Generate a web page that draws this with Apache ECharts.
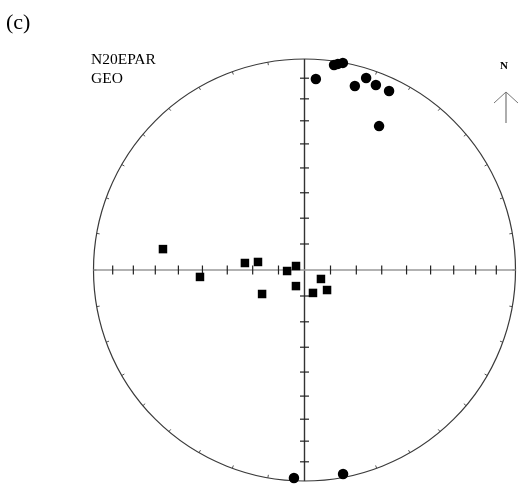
<!DOCTYPE html>
<html>
<head>
<meta charset="utf-8">
<script src="https://cdn.jsdelivr.net/npm/echarts@6/dist/echarts.min.js"></script>
<style>
  html, body { margin: 0; padding: 0; background: #fff; }
  #chart { width: 523px; height: 489px; }
</style>
</head>
<body>
<div id="chart"></div>
<script>
// Site mean directions (declination, inclination in degrees), geographic coordinates
const circleDec = [3.4, 8.2, 9.2, 10.5, 15.3, 17.8, 21.1, 25.3, 27.4, 182.9, 169.3];
const circleInc = [10.2, 2.1, 1.2, 0.2, 10.5, 5.0, 6.7, 6.9, 24.2, 1.5, 1.8];
const squareDec = [278.4, 266.2, 276.7, 279.8, 240.5, 266.7, 295.2, 208.0, 159.7, 118.6, 131.6];
const squareInc = [32.7, 48.9, 66.8, 71.8, 71.2, 83.3, 86.4, 83.0, 80.6, 82.8, 78.4];

// Inclination graduations along the N-S and E-W axes
const incTicks = [10, 20, 30, 40, 50, 60, 70, 80];
const axisDirs = [0, 90, 180, 270];

const siteLabel = 'N20EPAR';
const frameLabel = 'GEO';
const panelLabel = '(c)';

// Lambert equal-area (Schmidt) radius, 0 at the centre, 1 at the primitive
function eqArea(inc) {
  const a = (90 - Math.abs(inc)) / 2 * Math.PI / 180;
  return Math.SQRT2 * Math.sin(a);
}

function toPolar(decs, incs) {
  return decs.map((d, i) => [eqArea(incs[i]), d]);
}

const tickData = [];
axisDirs.forEach(dir => incTicks.forEach(inc => tickData.push([eqArea(inc), dir])));

const chart = echarts.init(document.getElementById('chart'), null, { renderer: 'canvas' });

chart.setOption({
  backgroundColor: '#ffffff',
  animation: false,
  polar: { center: [304.5, 270], radius: 211 },
  angleAxis: {
    type: 'value', min: 0, max: 360, interval: 10,
    startAngle: 90, clockwise: true,
    axisLine: { show: true, lineStyle: { color: '#3a3a3a', width: 1.2 } },
    axisTick: { show: true, inside: true, length: 3, lineStyle: { color: '#555', width: 1 } },
    axisLabel: { show: false },
    splitLine: { show: false }
  },
  radiusAxis: {
    type: 'value', min: 0, max: 1,
    axisLine: { show: false }, axisTick: { show: false },
    axisLabel: { show: false }, splitLine: { show: false }
  },
  series: [
    {
      // N-S and E-W cross lines
      type: 'custom', coordinateSystem: 'polar', silent: true, z: 1,
      data: [[1, 0], [1, 90]],
      renderItem: function (params, api) {
        const d = api.value(1);
        const p1 = api.coord([1, d]);
        const p2 = api.coord([1, d + 180]);
        const vertical = d === 0;
        return {
          type: 'line',
          shape: { x1: p1[0], y1: p1[1], x2: p2[0], y2: p2[1] },
          style: { stroke: vertical ? '#333' : '#999', lineWidth: 1.4 }
        };
      }
    },
    {
      // inclination ticks across the axes
      type: 'custom', coordinateSystem: 'polar', silent: true, z: 2,
      data: tickData,
      renderItem: function (params, api) {
        const p = api.coord([api.value(0), api.value(1)]);
        const dir = api.value(1);
        const horiz = dir === 90 || dir === 270;
        const h = 4.5;
        return {
          type: 'line',
          shape: horiz
            ? { x1: p[0], y1: p[1] - h, x2: p[0], y2: p[1] + h }
            : { x1: p[0] - h, y1: p[1], x2: p[0] + h, y2: p[1] },
          style: { stroke: '#222', lineWidth: 1.2 }
        };
      }
    },
    {
      type: 'scatter', coordinateSystem: 'polar', z: 5,
      symbol: 'circle', symbolSize: 10.5,
      itemStyle: { color: '#000', opacity: 1 },
      data: toPolar(circleDec, circleInc)
    },
    {
      type: 'scatter', coordinateSystem: 'polar', z: 5,
      symbol: 'rect', symbolSize: 8.5,
      itemStyle: { color: '#000', opacity: 1 },
      data: toPolar(squareDec, squareInc)
    }
  ],
  graphic: [
    { type: 'text', left: 6, top: 12,
      style: { text: panelLabel, font: '22px "Liberation Serif", serif', fill: '#000' } },
    { type: 'text', left: 91, top: 52,
      style: { text: siteLabel, font: '15.5px "Liberation Serif", serif', fill: '#000' } },
    { type: 'text', left: 91, top: 71,
      style: { text: frameLabel, font: '15.5px "Liberation Serif", serif', fill: '#000' } },
    { type: 'text', left: 500, top: 61,
      style: { text: 'N', font: 'bold 11px "Liberation Serif", serif', fill: '#000' } },
    { type: 'polyline', silent: true,
      shape: { points: [[494, 103], [506, 92], [518, 103]] },
      style: { stroke: '#777', lineWidth: 1, fill: null } },
    { type: 'line', silent: true,
      shape: { x1: 506, y1: 92, x2: 506, y2: 123 },
      style: { stroke: '#777', lineWidth: 1.2 } }
  ]
});
</script>
</body>
</html>
